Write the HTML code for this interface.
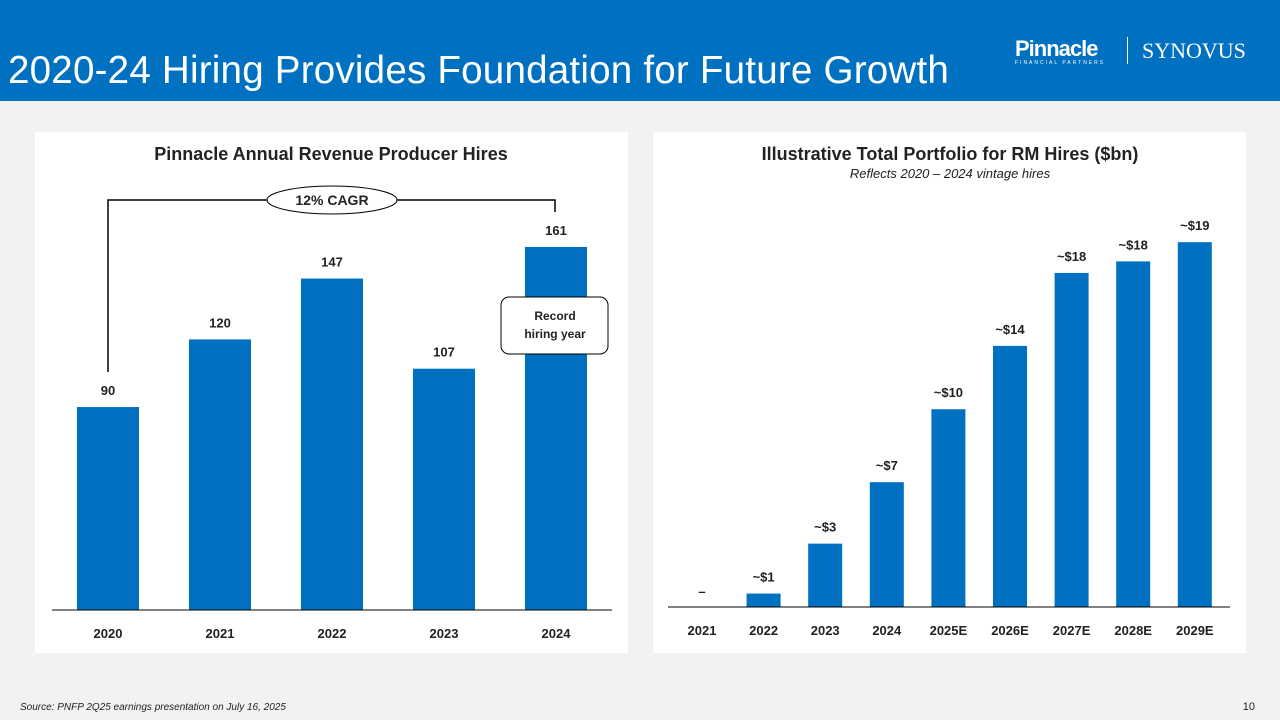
<!DOCTYPE html>
<html><head><meta charset="utf-8"><style>
body{margin:0;width:1280px;height:720px;background:#f2f2f2;font-family:"Liberation Sans",sans-serif;position:relative;overflow:hidden}
.hdr{position:absolute;left:0;top:0;width:1280px;height:101px;background:#0070c0}
.title{position:absolute;left:8px;top:49px;color:#fff;font-size:38.6px;letter-spacing:0.2px}
.panel{position:absolute;top:132px;width:593px;height:521px;background:#fff}
svg text{font-family:"Liberation Sans",sans-serif}
</style></head><body>
<div class="hdr">
<div class="title">2020-24 Hiring Provides Foundation for Future Growth</div>
<div style="position:absolute;left:1015px;top:36px;color:#fff;font-weight:bold;font-size:22px;letter-spacing:-1px">Pinnacle<div style="font-size:5px;letter-spacing:2px;font-weight:normal;margin-top:-2px">FINANCIAL PARTNERS</div></div>
<div style="position:absolute;left:1127px;top:37px;width:1px;height:27px;background:#fff"></div>
<div style="position:absolute;left:1142px;top:38px;color:#fff;font-family:'Liberation Serif',serif;font-size:22px">SYNOVUS</div>
</div>
<div class="panel" style="left:35px"></div>
<div class="panel" style="left:653px"></div>
<svg width="1280" height="720" style="position:absolute;left:0;top:0" id="c">
<text x="331" y="160" text-anchor="middle" font-size="18" font-weight="bold" fill="#222">Pinnacle Annual Revenue Producer Hires</text>
<text x="950" y="160" text-anchor="middle" font-size="18" font-weight="bold" fill="#222">Illustrative Total Portfolio for RM Hires ($bn)</text>
<text x="950" y="178" text-anchor="middle" font-size="13" font-style="italic" fill="#222">Reflects 2020 – 2024 vintage hires</text>
<polyline points="108,372 108,200 555,200 555,212" fill="none" stroke="#000" stroke-width="1.5"/>
<ellipse cx="332" cy="200" rx="65" ry="14" fill="#fff" stroke="#000"/>
<text x="332" y="205" text-anchor="middle" font-size="14" font-weight="bold" fill="#222">12% CAGR</text>
<g id="lg"></g><g id="rg"></g>
<rect x="501" y="297" width="107" height="57" rx="8" fill="#fff" stroke="#000"/>
<text x="555" y="320" text-anchor="middle" font-size="12" font-weight="bold" fill="#222">Record</text>
<text x="555" y="338" text-anchor="middle" font-size="12" font-weight="bold" fill="#222">hiring year</text>
<line x1="52" y1="610" x2="612" y2="610" stroke="#000"/>
<line x1="668" y1="607" x2="1230" y2="607" stroke="#000"/>
<text x="20" y="710" font-size="10" font-style="italic" fill="#222">Source: PNFP 2Q25 earnings presentation on July 16, 2025</text>
<text x="1255" y="710" text-anchor="end" font-size="11" fill="#222">10</text>
</svg>
<script>
const leftCats=["2020","2021","2022","2023","2024"];
const leftVals=[90,120,147,107,161];
const rightCats=["2021","2022","2023","2024","2025E","2026E","2027E","2028E","2029E"];
const rightVals=[0,0.7,3.3,6.5,10.3,13.6,17.4,18.0,19.0];
const rightLabels=["–","~$1","~$3","~$7","~$10","~$14","~$18","~$18","~$19"];
const NS="http://www.w3.org/2000/svg";
function mk(g,tag,a,txt){const e=document.createElementNS(NS,tag);for(const k in a)e.setAttribute(k,a[k]);if(txt!==undefined)e.textContent=txt;g.appendChild(e);return e;}
const lg=document.getElementById('lg'),rg=document.getElementById('rg');
const lx=i=>108+i*112, ly=v=>610-v*2.255;
leftVals.forEach((v,i)=>{
const b=mk(lg,'rect',{x:lx(i)-31,y:ly(v),width:62,height:610-ly(v),fill:'#0070c0'});


const t=mk(lg,'text',{x:lx(i),y:ly(v)-12,'text-anchor':'middle','font-size':13,'font-weight':'bold',fill:'#222'},String(v));


const c=mk(lg,'text',{x:lx(i),y:638,'text-anchor':'middle','font-size':13,'font-weight':'bold',fill:'#222'},leftCats[i]);


});
const rx=i=>702+i*61.6, ry=v=>607-v*19.2;
rightVals.forEach((v,i)=>{
const b=mk(rg,'rect',{x:rx(i)-17,y:ry(v),width:34,height:607-ry(v),fill:'#0070c0'});


const t=mk(rg,'text',{x:rx(i),y:(v>0?ry(v)-12:ry(v)-11),'text-anchor':'middle','font-size':13,'font-weight':'bold',fill:'#222'},rightLabels[i]);


const c=mk(rg,'text',{x:rx(i),y:635,'text-anchor':'middle','font-size':13,'font-weight':'bold',fill:'#222'},rightCats[i]);


});
</script>
</body></html>
